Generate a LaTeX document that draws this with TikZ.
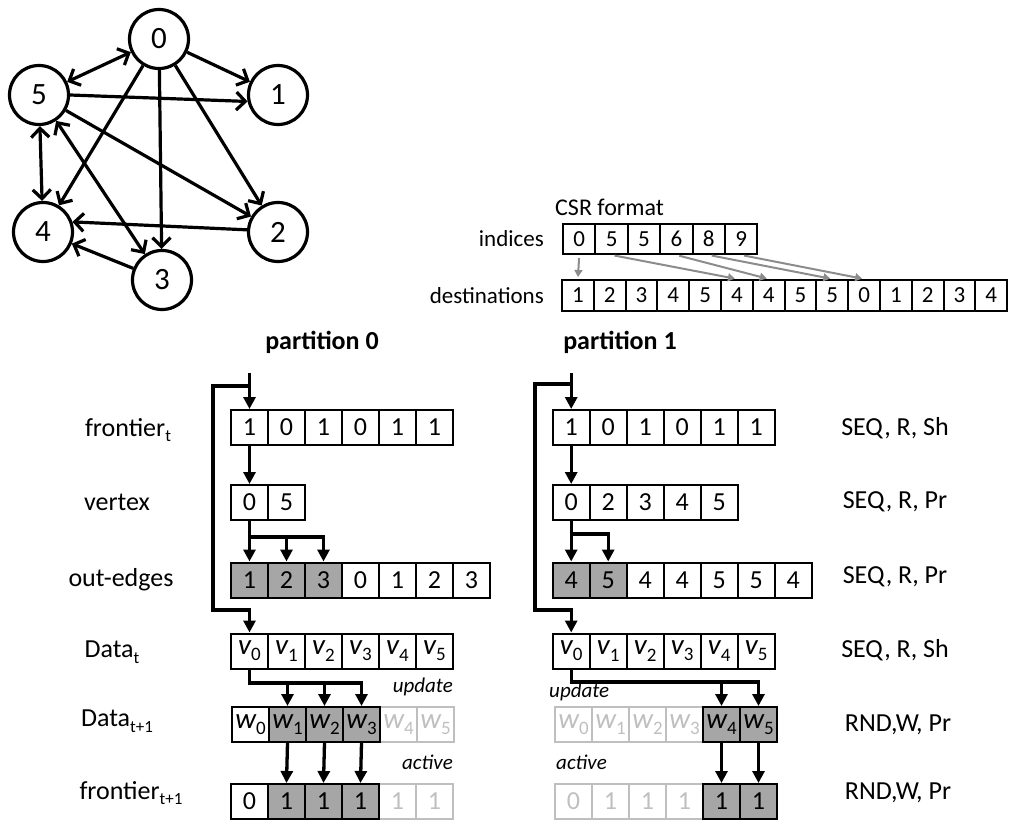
\documentclass[tikz,border=0pt]{standalone}
\usepackage{fontspec}
\setmainfont{Carlito}
\usetikzlibrary{arrows.meta}

\definecolor{cellgray}{RGB}{166,166,166}
\definecolor{fadegray}{RGB}{191,191,191}
\definecolor{ptrgray}{RGB}{140,140,140}

% lowered small text for subscripts
\newcommand\sbs[1]{\raisebox{-0.22em}{\fontsize{17}{17}\selectfont #1}}
% italic cell value with subscript index
\newcommand\vv[2]{{\fontsize{29}{30}\selectfont\itshape #1}\raisebox{-0.24em}{\fontsize{19}{19}\selectfont #2}}

\tikzset{
  vtx/.style={circle, draw, line width=3.2pt, minimum size=59pt, inner sep=0pt,
    font=\fontsize{31}{31}\selectfont},
  gedge/.style={line width=3.2pt, >={Straight Barb[length=9pt,width=18pt]}},
  cell/.style={draw, line width=2pt, minimum width=37pt, minimum height=35pt,
    inner sep=0pt, font=\fontsize{26}{30}\selectfont},
  hot/.style={cell, fill=cellgray},
  faded/.style={cell, draw=fadegray, text=fadegray},
  csrcell/.style={draw, line width=2pt, minimum height=30pt, inner sep=0pt,
    font=\fontsize{23}{26}\selectfont},
  ptr/.style={draw=ptrgray, line width=2pt, shorten <=3pt, shorten >=2pt,
    -{Triangle[length=7pt,width=8pt]}},
  flow/.style={line width=3.3pt, -{Triangle[length=12pt,width=12pt]}},
  rowlab/.style={inner sep=0pt, font=\fontsize{26}{30}\selectfont},
  small/.style={inner sep=0pt, font=\fontsize{23}{26}\selectfont},
  ital/.style={inner sep=0pt, font=\fontsize{21}{24}\selectfont\itshape},
  head/.style={inner sep=0pt, font=\fontsize{26}{30}\selectfont\bfseries},
}

\begin{document}
\begin{tikzpicture}[x=1pt,y=-1pt]
\useasboundingbox (0,0) rectangle (1009,821);

% ---------- the graph ----------
\node[vtx] (g0) at (159,39) {0};
\node[vtx] (g1) at (278,95) {1};
\node[vtx] (g5) at (39,95) {5};
\node[vtx] (g4) at (43,232) {4};
\node[vtx] (g2) at (278,232) {2};
\node[vtx] (g3) at (162,280) {3};

\draw[gedge,<->] (g0) -- (g5);
\draw[gedge,->] (g0) -- (g1);
\draw[gedge,->] (g0) -- (g2);
\draw[gedge,->] (g0) -- (g3);
\draw[gedge,->] (g0) -- (g4);
\draw[gedge,->] (g5.east) -- (g1.192);
\draw[gedge,->] (g5) -- (g2);
\draw[gedge,<->] (g5) -- (g4);
\draw[gedge,<->] (g5) -- (g3);
\draw[gedge,->] (g2.176) -- (g4.19);
\draw[gedge,->] (g3) -- (g4);

% ---------- CSR format ----------
\node[small, anchor=west, font=\fontsize{24}{26}\selectfont] (csr) at (555,207) {CSR format};
\node[small, anchor=east] (ilab) at (544,239) {indices};
\node[small, anchor=east] (dlab) at (544,296) {destinations};
\foreach \t [count=\i from 0] in {0,5,5,6,8,9}
  \node[csrcell, minimum width=32.4pt] (ix\i) at ({579.2+32.4*\i},239) {\t};
\foreach \t [count=\i from 0] in {1,2,3,4,5,4,4,5,5,0,1,2,3,4}
  \node[csrcell, minimum width=31.8pt, minimum height=31pt] (ds\i) at ({577.9+31.8*\i},295.5) {\t};
\draw[ptr] (ix0.south) -- (ds0.north);
\draw[ptr] (ix1.south) -- (ds5.north);
\draw[ptr] (ix3.south) -- (ds6.north);
\draw[ptr] (ix4.south) -- (ds8.north);
\draw[ptr] (ix5.south) -- (ds9.north);

% ---------- headings and row labels ----------
\node[head] (pa) at (322,342) {partition 0};
\node[head] (pb) at (620,342) {partition 1};

\node[rowlab] (lf) at (128,430) {frontier\sbs{t}};
\node[rowlab] (lv) at (117,502) {vertex};
\node[rowlab] (lo) at (121,580) {out-edges};
\node[rowlab] (ld) at (112,652) {Data\sbs{t}};
\node[rowlab] (ln) at (117,721) {Data\sbs{t+1}};
\node[rowlab] (lr) at (131,793) {frontier\sbs{t+1}};

\node[rowlab] (af) at (895,428) {SEQ, R, Sh};
\node[rowlab] (av) at (895,502) {SEQ, R, Pr};
\node[rowlab] (ao) at (895,577) {SEQ, R, Pr};
\node[rowlab] (ad) at (895,650) {SEQ, R, Sh};
\node[rowlab] (an) at (898,725) {RND,W, Pr};
\node[rowlab] (ar) at (898,793) {RND,W, Pr};

% ---------- partition 0 ----------
\foreach \t [count=\i from 0] in {1,0,1,0,1,1}
  \node[cell] (fa\i) at ({249.5+37*\i},427.5) {\t};
\foreach \t [count=\i from 0] in {0,5}
  \node[cell] (va\i) at ({249.5+37*\i},502.5) {\t};
\foreach \s/\t [count=\i from 0] in {hot/1,hot/2,hot/3,cell/0,cell/1,cell/2,cell/3}
  \node[\s] (oa\i) at ({249.5+37*\i},580) {\t};
\foreach \i in {0,...,5}
  \node[cell] (da\i) at ({249.5+37*\i},651) {\vv{v}{\i}};
\foreach \i in {4,5}
  \node[faded] (na\i) at ({250.5+37*\i},724.5) {\vv{w}{\i}};
\node[cell] (na0) at (250.5,724.5) {\vv{w}{0}};
\foreach \i in {1,2,3}
  \node[hot] (na\i) at ({250.5+37*\i},724.5) {\vv{w}{\i}};
\foreach \i in {4,5}
  \node[faded] (ra\i) at ({249.5+37*\i},801.5) {1};
\node[cell] (ra0) at (249.5,801.5) {0};
\foreach \i in {1,2,3}
  \node[hot] (ra\i) at ({249.5+37*\i},801.5) {1};

\coordinate (ea) at (249.5,373);
\coordinate (ja) at (249.5,386);
\coordinate (ka) at (213,610);
\coordinate (ba) at (249.5,537);
\coordinate (ua) at (249.5,683);
\draw[flow] (ea) -- (fa0.north);
\draw[flow] (ja) -| (ka) -| (da0.north);
\draw[flow] (fa0.south) -- (va0.north);
\draw[flow] (va0.south) -- (ba) -| (oa2.north);
\draw[flow] (ba) -- (oa0.north);
\draw[flow] (oa1.north |- ba) -- (oa1.north);
\draw[flow] (da0.south) -- (ua) -| (na3.north);
\draw[flow] (na1.north |- ua) -- (na1.north);
\draw[flow] (na2.north |- ua) -- (na2.north);
\foreach \i in {1,2,3}
  \draw[flow] (na\i.south) -- (ra\i.north);

\node[ital, anchor=east] (upa) at (453,687) {update};
\node[ital, anchor=east] (aca) at (453,762) {active};

% ---------- partition 1 ----------
\foreach \t [count=\i from 0] in {1,0,1,0,1,1}
  \node[cell] (fb\i) at ({571.2+37*\i},427.5) {\t};
\foreach \t [count=\i from 0] in {0,2,3,4,5}
  \node[cell] (vb\i) at ({571.2+37*\i},502.5) {\t};
\foreach \s/\t [count=\i from 0] in {hot/4,hot/5,cell/4,cell/4,cell/5,cell/5,cell/4}
  \node[\s] (ob\i) at ({571.2+37*\i},580) {\t};
\foreach \i in {0,...,5}
  \node[cell] (db\i) at ({571.2+37*\i},651) {\vv{v}{\i}};
\foreach \i in {0,...,3}
  \node[faded] (nb\i) at ({573.5+37*\i},724.5) {\vv{w}{\i}};
\foreach \i in {4,5}
  \node[hot] (nb\i) at ({573.5+37*\i},724.5) {\vv{w}{\i}};
\foreach \t [count=\i from 0] in {0,1,1,1}
  \node[faded] (rb\i) at ({573.5+37*\i},801.5) {\t};
\foreach \i in {4,5}
  \node[hot] (rb\i) at ({573.5+37*\i},801.5) {1};

\coordinate (eb) at (571.2,373);
\coordinate (jb) at (571.2,384);
\coordinate (kb) at (535,610);
\coordinate (bb) at (571.2,534);
\coordinate (ub) at (571.2,682);
\draw[flow] (eb) -- (fb0.north);
\draw[flow] (jb) -| (kb) -| (db0.north);
\draw[flow] (fb0.south) -- (vb0.north);
\draw[flow] (vb0.south) -- (bb) -| (ob1.north);
\draw[flow] (bb) -- (ob0.north);
\draw[flow] (db0.south) -- (ub) -| (nb5.north);
\draw[flow] (nb4.north |- ub) -- (nb4.north);
\foreach \i in {4,5}
  \draw[flow] (nb\i.south) -- (rb\i.north);

\node[ital, anchor=west] (upb) at (549,692) {update};
\node[ital, anchor=west] (acb) at (556,762) {active};
\end{tikzpicture}
\end{document}
